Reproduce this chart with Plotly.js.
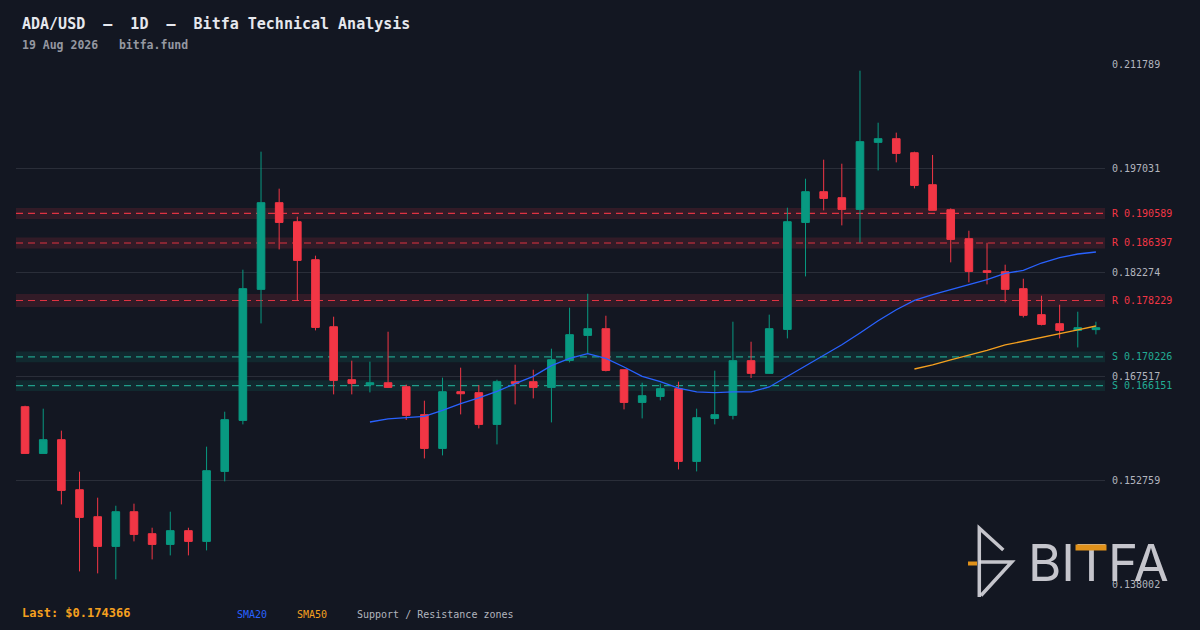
<!DOCTYPE html>
<html>
<head>
<meta charset="utf-8">
<script src="https://cdn.plot.ly/plotly-3.0.1.min.js"></script>
<style>
html,body{margin:0;padding:0;background:#131722;}
#chart{width:1200px;height:630px;}
</style>
</head>
<body>
<div id="chart"></div>
<script>
// ---------- data ----------
const dates = [
"2026-06-21","2026-06-22","2026-06-23","2026-06-24","2026-06-25","2026-06-26","2026-06-27","2026-06-28","2026-06-29","2026-06-30",
"2026-07-01","2026-07-02","2026-07-03","2026-07-04","2026-07-05","2026-07-06","2026-07-07","2026-07-08","2026-07-09","2026-07-10",
"2026-07-11","2026-07-12","2026-07-13","2026-07-14","2026-07-15","2026-07-16","2026-07-17","2026-07-18","2026-07-19","2026-07-20",
"2026-07-21","2026-07-22","2026-07-23","2026-07-24","2026-07-25","2026-07-26","2026-07-27","2026-07-28","2026-07-29","2026-07-30",
"2026-07-31","2026-08-01","2026-08-02","2026-08-03","2026-08-04","2026-08-05","2026-08-06","2026-08-07","2026-08-08","2026-08-09",
"2026-08-10","2026-08-11","2026-08-12","2026-08-13","2026-08-14","2026-08-15","2026-08-16","2026-08-17","2026-08-18","2026-08-19"];

const open = [
0.16316,0.15653,0.15848,0.15138,0.14755,0.14334,0.14826,0.14514,0.14362,0.14557,
0.14405,0.15398,0.16122,0.17981,0.19211,0.18941,0.18402,0.17451,0.16699,0.16628,
0.16656,0.16600,0.16203,0.15724,0.16529,0.16515,0.16065,0.16671,0.16671,0.16590,
0.16973,0.17328,0.17423,0.16841,0.16377,0.16462,0.16572,0.15540,0.16150,0.16193,
0.16969,0.16789,0.17413,0.18931,0.19367,0.19282,0.19116,0.20067,0.20119,0.19920,
0.19466,0.19111,0.18700,0.18246,0.18232,0.17991,0.17622,0.17494,0.17399,0.17410];

const high = [
0.16330,0.16288,0.15976,0.15394,0.15025,0.14911,0.14940,0.14599,0.14826,0.14599,
0.15749,0.16245,0.18260,0.19935,0.19410,0.19012,0.18459,0.17593,0.16969,0.16955,
0.17380,0.16630,0.16401,0.16728,0.16870,0.16624,0.16699,0.16912,0.16841,0.17139,
0.17721,0.17919,0.17607,0.16841,0.16656,0.16643,0.16671,0.16288,0.16827,0.17522,
0.17238,0.17622,0.19140,0.19551,0.19821,0.19764,0.21084,0.20346,0.20205,0.19935,
0.19888,0.19130,0.18813,0.18643,0.18331,0.18132,0.17891,0.17763,0.17664,0.17522];

const low = [
0.15650,0.15650,0.14930,0.13979,0.13951,0.13866,0.14405,0.14149,0.14206,0.14206,
0.14277,0.15256,0.16065,0.17498,0.18548,0.17816,0.17399,0.16491,0.16491,0.16519,
0.16585,0.16127,0.15582,0.15625,0.16207,0.16008,0.15781,0.16349,0.16434,0.16093,
0.16945,0.17068,0.16817,0.16278,0.16150,0.16406,0.15426,0.15398,0.16065,0.16136,
0.16723,0.16785,0.17285,0.18165,0.19102,0.18889,0.18643,0.19669,0.19783,0.19414,
0.19100,0.18364,0.18080,0.18052,0.17796,0.17583,0.17470,0.17285,0.17157,0.17342];

const close = [
0.15653,0.15848,0.15128,0.14745,0.14334,0.14826,0.14504,0.14362,0.14557,0.14405,
0.15408,0.16132,0.17991,0.19211,0.18931,0.18392,0.17441,0.16689,0.16647,0.16656,
0.16590,0.16193,0.15724,0.16529,0.16500,0.16065,0.16671,0.16647,0.16590,0.16983,
0.17338,0.17423,0.16831,0.16377,0.16472,0.16572,0.15540,0.16160,0.16203,0.16969,
0.16789,0.17423,0.18941,0.19367,0.19272,0.19116,0.20077,0.20119,0.19910,0.19456,
0.19102,0.18690,0.18236,0.18222,0.17981,0.17612,0.17484,0.17399,0.17437,0.174366];

// SMA values (SMA20 from day 20, SMA50 from day 50)
const sma20 = [
0.16099,0.16142,0.16160,0.16178,0.16264,0.16359,0.16440,0.16533,0.16643,0.16746,
0.16898,0.17002,0.17068,0.17002,0.16879,0.16746,0.16671,0.16581,0.16525,0.16515,
0.16525,0.16525,0.16596,0.16746,0.16898,0.17040,0.17196,0.17362,0.17536,0.17692,
0.17825,0.17905,0.17976,0.18037,0.18118,0.18208,0.18250,0.18355,0.18430,0.18483,
0.18511];
const sma50 = [0.16851,0.16908,0.16979,0.17044,0.17115,0.17192,0.17243,0.17300,0.17352,0.17405,0.17461];

const resistanceLevels = [0.190589, 0.186397, 0.178229];
const resistanceBand   = [0.00078, 0.00078, 0.00092];
const supportLevels    = [0.170226, 0.166151];
const supportBand      = [0.00076, 0.00078];

const yTickValues = [0.138002, 0.152759, 0.167517, 0.182274, 0.197031, 0.211789];
const lastPrice = 0.174366;

const titleText = "ADA/USD  \u2013  1D  \u2013  Bitfa Technical Analysis";
const subtitleText = "19 Aug 2026   bitfa.fund";
const brandText = "BITFA";

// ---------- layout helpers ----------
const W = 1200, H = 630, ML = 16, MR = 95, MT = 64, MB = 46;
const PW = W - ML - MR, PH = H - MT - MB;
const px = x => (x - ML) / PW;
const py = y => (H - MB - y) / PH;

const BG = "#131722";
const UP = "#089981", DOWN = "#f23645";
const RED = "#f23645", TEAL = "#22ab94";
const MONO = "DejaVu Sans Mono, monospace";

function addDay(d, n){ const t = new Date(d + "T00:00:00Z"); t.setUTCHours(t.getUTCHours() + n); return t.toISOString().slice(0,19).replace("T"," "); }

const traces = [
  {
    type: "candlestick", x: dates, open: open, high: high, low: low, close: close,
    increasing: {line: {color: UP, width: 1}, fillcolor: UP},
    decreasing: {line: {color: DOWN, width: 1}, fillcolor: DOWN},
    whiskerwidth: 0, hoverinfo: "skip", showlegend: false
  },
  {
    type: "scatter", mode: "lines", x: dates.slice(dates.length - sma20.length), y: sma20,
    line: {color: "#2962ff", width: 1.3}, hoverinfo: "skip", showlegend: false
  },
  {
    type: "scatter", mode: "lines", x: dates.slice(dates.length - sma50.length), y: sma50,
    line: {color: "#f5a01f", width: 1.3}, hoverinfo: "skip", showlegend: false
  }
];

const shapes = [];
const annotations = [];

function addZone(level, band, kind){
  const col = kind === "R" ? RED : TEAL;
  const fill = kind === "R" ? "rgba(242,54,69,0.14)" : "rgba(8,153,129,0.14)";
  shapes.push({type: "rect", xref: "paper", yref: "y", x0: 0, x1: 1, y0: level - band, y1: level + band,
    fillcolor: fill, line: {width: 0}, layer: "below"});
  shapes.push({type: "line", xref: "paper", yref: "y", x0: 0, x1: 1, y0: level, y1: level,
    line: {color: col, width: 1.1, dash: "7px,5px"}, opacity: 0.9, layer: "below"});
  annotations.push({xref: "paper", yref: "y", x: 1, y: level, xanchor: "left", yanchor: "middle",
    xshift: 5, text: kind + " " + level.toFixed(6), showarrow: false,
    font: {family: MONO, size: 10, color: col}});
}
resistanceLevels.forEach((l, i) => addZone(l, resistanceBand[i], "R"));
supportLevels.forEach((l, i) => addZone(l, supportBand[i], "S"));

// title & subtitle
annotations.push({xref: "paper", yref: "paper", x: px(20), y: py(24), xanchor: "left", yanchor: "middle",
  text: "<b>" + titleText + "</b>", showarrow: false, font: {family: MONO, size: 15, color: "#e6e8ee"}});
annotations.push({xref: "paper", yref: "paper", x: px(20), y: py(45), xanchor: "left", yanchor: "middle",
  text: "<b>" + subtitleText + "</b>", showarrow: false, font: {family: MONO, size: 11.5, color: "#9598a1"}});

// bottom legend
annotations.push({xref: "paper", yref: "paper", x: px(20), y: py(613), xanchor: "left", yanchor: "middle",
  text: "<b>Last: $" + lastPrice.toFixed(6) + "</b>", showarrow: false, font: {family: MONO, size: 12, color: "#f5a01f"}});
annotations.push({xref: "paper", yref: "paper", x: px(235), y: py(614), xanchor: "left", yanchor: "middle",
  text: "SMA20", showarrow: false, font: {family: MONO, size: 10, color: "#2962ff"}});
annotations.push({xref: "paper", yref: "paper", x: px(295), y: py(614), xanchor: "left", yanchor: "middle",
  text: "SMA50", showarrow: false, font: {family: MONO, size: 10, color: "#f5a01f"}});
annotations.push({xref: "paper", yref: "paper", x: px(355), y: py(614), xanchor: "left", yanchor: "middle",
  text: "Support / Resistance zones", showarrow: false, font: {family: MONO, size: 10, color: "#b2b5be"}});

// BITFA watermark
const LOGO = "rgba(222,222,228,0.88)";
const LOGO_ORANGE = "#e0911a";
function pathPx(pts){ return pts.map((p, i) => (i ? "L" : "M") + px(p[0]).toFixed(5) + "," + py(p[1]).toFixed(5)).join(" "); }
shapes.push({type: "path", xref: "paper", yref: "paper", path: pathPx([[979.3,597],[979.3,528.3],[1003.3,550]]),
  line: {color: LOGO, width: 3.5}});
shapes.push({type: "path", xref: "paper", yref: "paper", path: pathPx([[979.3,562],[1011.7,562],[981,595.5]]),
  line: {color: LOGO, width: 3.5}});
shapes.push({type: "path", xref: "paper", yref: "paper", path: pathPx([[968,563.5],[977,563.5]]),
  line: {color: LOGO_ORANGE, width: 4}});
annotations.push({xref: "paper", yref: "paper", x: px(1026), y: py(562.5),
  xanchor: "left", yanchor: "middle", text: brandText, showarrow: false,
  font: {family: "Inter, Roboto, sans-serif", size: 51, color: LOGO}});
// orange top bar of the T, drawn above the letter
annotations.push({xref: "paper", yref: "paper", x: px(1091), y: py(547.6), xanchor: "center", yanchor: "middle",
  text: " ", showarrow: false, width: 30, height: 5, borderpad: 0, bgcolor: LOGO_ORANGE,
  font: {size: 1, color: LOGO_ORANGE}});

const layout = {
  width: W, height: H,
  margin: {l: ML, r: MR, t: MT, b: MB, pad: 0},
  paper_bgcolor: BG, plot_bgcolor: BG,
  showlegend: false,
  boxgap: 0.4,
  xaxis: {
    type: "date", range: [addDay(dates[0], -12), addDay(dates[dates.length - 1], 12)],
    showgrid: false, zeroline: false, showticklabels: false, ticks: "", showline: false,
    rangeslider: {visible: false}, fixedrange: true
  },
  yaxis: {
    side: "right", range: [yTickValues[0] - 1e-7, yTickValues[yTickValues.length - 1] + 1e-7],
    tickmode: "array", tickvals: yTickValues, ticktext: yTickValues.map(v => v.toFixed(6)),
    showgrid: true, gridcolor: "#2a2e39", gridwidth: 1, zeroline: false, showline: false,
    ticks: "", ticklabelstandoff: 6,
    tickfont: {family: MONO, size: 10, color: "#b2b5be"}, fixedrange: true
  },
  shapes: shapes,
  annotations: annotations,
  hovermode: false
};

Plotly.newPlot("chart", traces, layout, {displayModeBar: false, staticPlot: true});
</script>
</body>
</html>
